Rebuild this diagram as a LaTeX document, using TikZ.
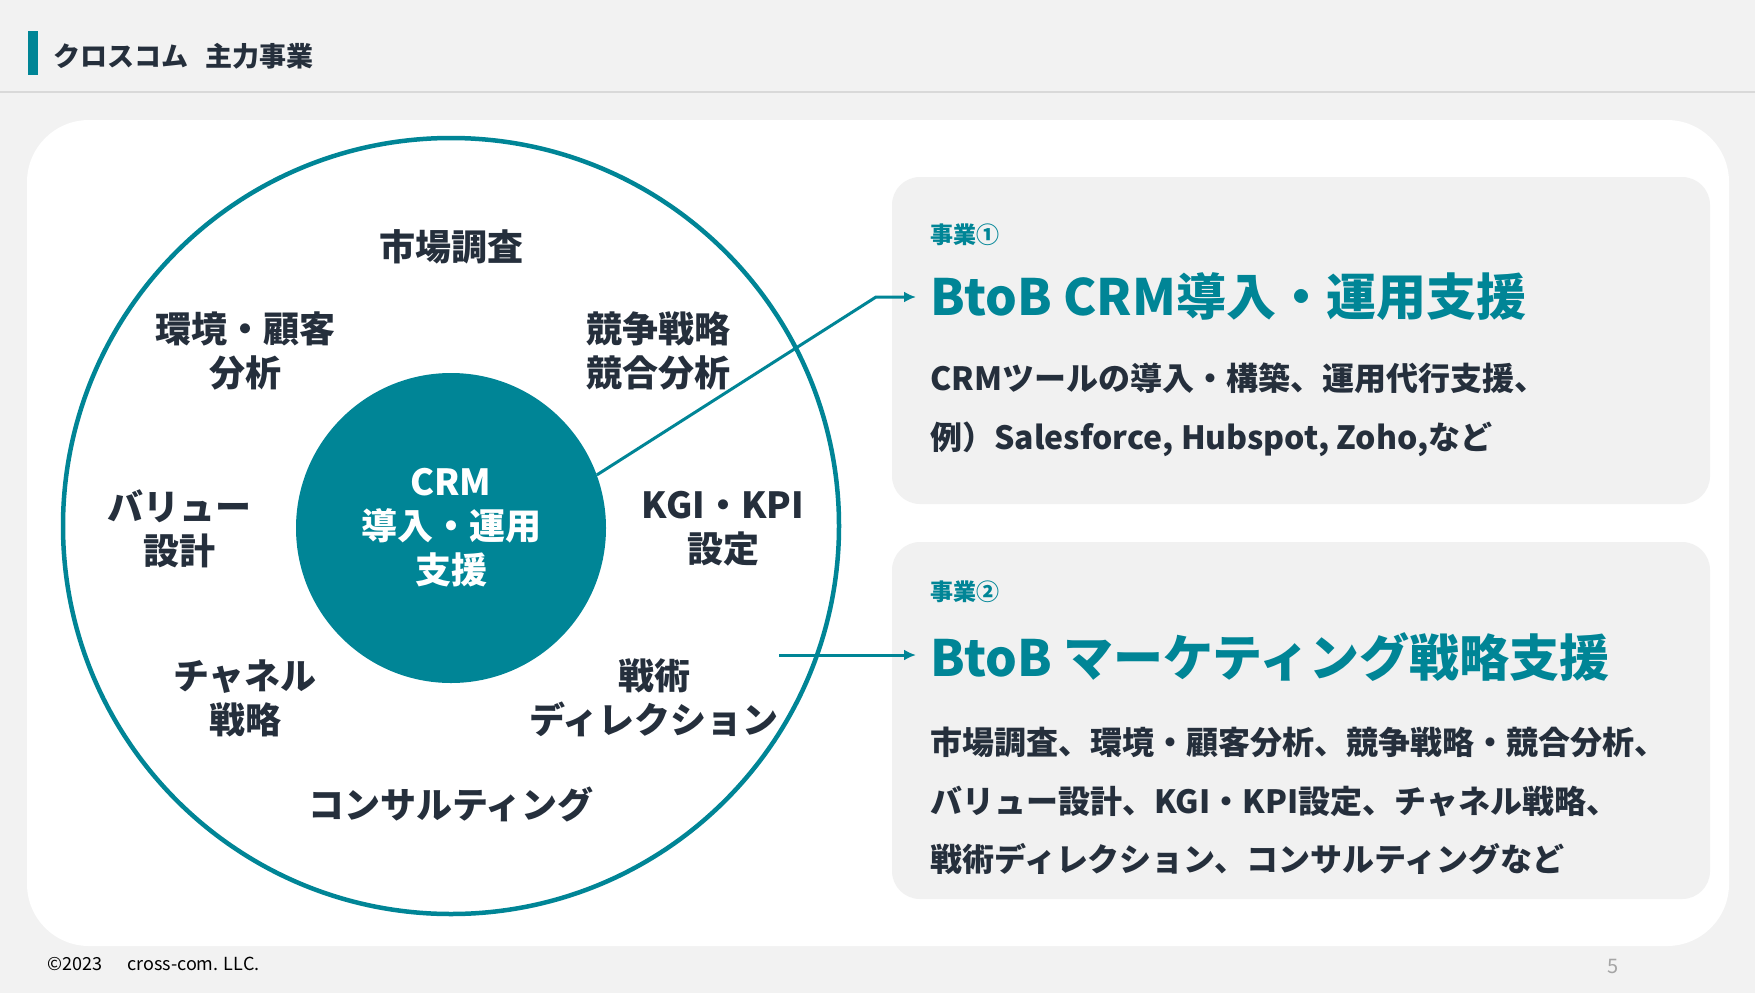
\documentclass[tikz,border=0pt]{standalone}
\usepackage{fontspec}
\setmainfont{Noto Sans CJK JP}
\usetikzlibrary{positioning,arrows.meta,calc}
\definecolor{brand}{RGB}{0,133,150}
\definecolor{ink}{RGB}{37,47,60}
\definecolor{page}{RGB}{242,242,242}
\definecolor{cardgray}{RGB}{241,241,241}
\definecolor{rulegray}{RGB}{217,217,217}
\definecolor{mute}{RGB}{165,165,165}
\tikzset{
  ring/.style={circle, draw=brand, line width=4.5pt, minimum size=776pt, inner sep=0pt},
  hub/.style={circle, fill=brand, minimum size=310pt, inner sep=0pt, text=white, align=center,
              font=\bfseries\fontsize{36}{44}\selectfont},
  topic/.style={align=center, text=ink, inner sep=0pt, font=\bfseries\fontsize{36}{44}\selectfont},
  panelbox/.style={fill=cardgray, rounded corners=28pt, minimum width=818pt, minimum height=327pt, inner sep=0pt},
  kicker/.style={anchor=west, inner sep=0pt, text=brand, font=\bfseries\fontsize{23}{28}\selectfont},
  headline/.style={anchor=west, inner sep=0pt, text=brand, font=\bfseries\fontsize{50}{60}\selectfont},
  body/.style={anchor=west, inner sep=0pt, align=left, text=ink, font=\bfseries\fontsize{32}{58.5}\selectfont},
  arr/.style={-{Latex[length=12pt,width=11pt]}, line width=3pt, draw=brand},
}

\begin{document}
\begin{tikzpicture}[x=1pt, y=-1pt]
  \useasboundingbox (0,0) rectangle (1755,993);
  \fill[page] (0,0) rectangle (1755,993);

  % ---- header -------------------------------------------------------
  \draw[rulegray, line width=2pt] (0,92) -- (1755,92);
  \fill[brand] (28,31) rectangle (38,75);
  \node[anchor=west, inner sep=0pt, text=ink, font=\bfseries\fontsize{27}{30}\selectfont] (title) at (53,56)
    {クロスコム\hspace{17pt}主力事業};

  % ---- white sheet --------------------------------------------------
  \fill[white, rounded corners=62pt] (27,120) rectangle (1729,946);

  % ---- circle of services -------------------------------------------
  \node[ring] (ring) at (451,526) {};
  \node[hub] (core) at (451,528) {CRM\\導入・運用\\支援};
  \node[topic] (market)  at (451,247) {市場調査};
  \node[topic] (env)     at (245,351) {環境・顧客\\分析};
  \node[topic] (comp)    at (658,351) {競争戦略\\競合分析};
  \node[topic] (value)   at (179,529) {バリュー\\設計};
  \node[topic] (kpi)     at (723,529) {KGI・KPI\\設定};
  \node[topic] (channel) at (245,698) {チャネル\\戦略};
  \node[topic] (tactic)  at (654,698) {戦術\\ディレクション};
  \node[topic] (consult) at (451,804) {コンサルティング};

  % ---- business cards -----------------------------------------------
  \node[panelbox] (card1) at (1301,340.5) {};
  \node[panelbox, minimum height=357pt] (card2) at (1301,720.5) {};

  \node[kicker] (no1) at (930,235) {事業①};
  \node[headline] (head1) at (930,297) {BtoB CRM導入・運用支援};
  \node[body] (text1) at (930,410)
    {CRMツールの導入・構築、運用代行支援、\\例）Salesforce, Hubspot, Zoho,など};

  \node[kicker] (no2) at (930,592) {事業②};
  \node[headline] (head2) at (930,657) {BtoB マーケティング戦略支援};
  \node[body] (text2) at (930,801)
    {市場調査、環境・顧客分析、競争戦略・競合分析、\\
     バリュー設計、KGI・KPI設定、チャネル戦略、\\
     戦術ディレクション、コンサルティングなど};

  % ---- connectors ---------------------------------------------------
  \coordinate[left=14pt of head1.west] (tip1);
  \coordinate (bend1) at ($(tip1)+(-40,0)$);
  \coordinate (from2) at (779,655);
  \coordinate[left=14pt of head2.west] (tip2);
  \draw[arr] (core.20) -- (bend1) -- (tip1);
  \draw[arr] (from2) -- (tip2 |- from2);

  % ---- footer -------------------------------------------------------
  \node[anchor=west, inner sep=0pt, text=black, font=\fontsize{18}{20}\selectfont] (copy) at (47,964)
    {©2023\hspace{25pt}cross-com. LLC.};
  \node[inner sep=0pt, text=mute, font=\fontsize{20}{24}\selectfont] (page) at (1613,966) {5};
\end{tikzpicture}
\end{document}
